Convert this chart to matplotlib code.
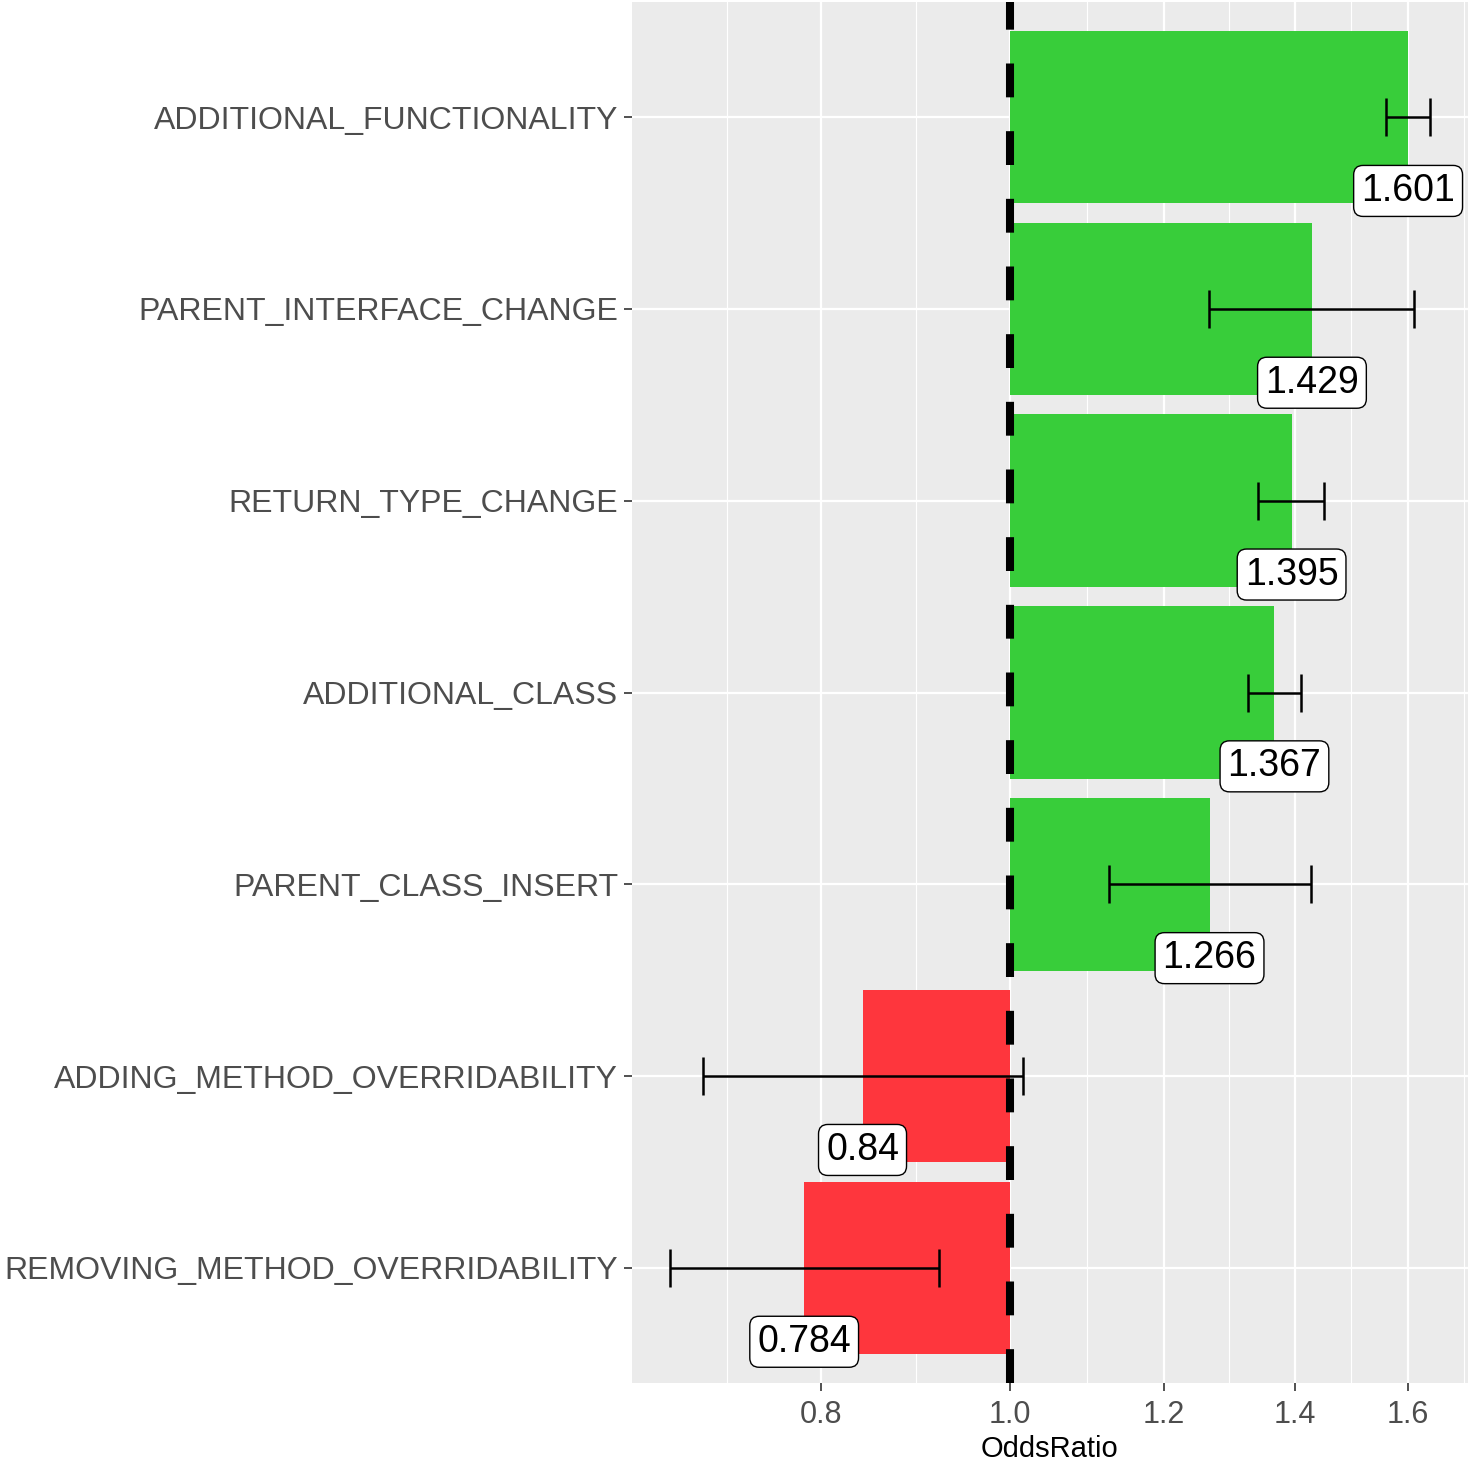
import numpy as np
import matplotlib
matplotlib.use("Agg")
import matplotlib.pyplot as plt
from matplotlib.ticker import FixedLocator, NullFormatter

plt.rcParams["font.family"] = ["Liberation Sans", "DejaVu Sans"]

# Data (bottom to top)
categories = [
    "REMOVING_METHOD_OVERRIDABILITY",
    "ADDING_METHOD_OVERRIDABILITY",
    "PARENT_CLASS_INSERT",
    "ADDITIONAL_CLASS",
    "RETURN_TYPE_CHANGE",
    "PARENT_INTERFACE_CHANGE",
    "ADDITIONAL_FUNCTIONALITY",
]
odds_ratio = [0.784, 0.84, 1.266, 1.367, 1.395, 1.429, 1.601]
ci_low = [0.669, 0.696, 1.124, 1.325, 1.340, 1.265, 1.560]
ci_high = [0.920, 1.015, 1.427, 1.410, 1.449, 1.612, 1.643]
x_ticks = [0.8, 1.0, 1.2, 1.4, 1.6]

green = "#38CD3A"
red = "#FE363D"

fig = plt.figure(figsize=(14.78, 14.64), dpi=100)
ax = fig.add_axes([632 / 1478, 1 - 1383 / 1464, (1468 - 632) / 1478, 1381 / 1464])
ax.set_facecolor("#EBEBEB")
ax.set_xscale("log")

y = np.arange(len(categories))
colors = [green if v >= 1 else red for v in odds_ratio]
widths = [v - 1.0 for v in odds_ratio]
ax.barh(y, widths, left=1.0, height=0.9, color=colors, zorder=2)

err = [np.array(odds_ratio) - np.array(ci_low), np.array(ci_high) - np.array(odds_ratio)]
ax.errorbar(odds_ratio, y, xerr=err, fmt="none", ecolor="black",
            elinewidth=1.8, capsize=14, capthick=1.8, zorder=4)

ax.axvline(1.0, color="black", lw=5.8, linestyle=(0, (4.2, 4.2)), zorder=5)

for yi, v in zip(y, odds_ratio):
    ax.text(v, yi - 0.385, f"{v:g}", ha="center", va="center", fontsize=27,
            zorder=6,
            bbox=dict(boxstyle="round,pad=0.2,rounding_size=0.25",
                      fc="white", ec="black", lw=1.0))

# limits (log space with ggplot-like expansion)
lo = np.log(min(ci_low))
hi = np.log(max(ci_high))
pad = 0.05 * (hi - lo)
ax.set_xlim(np.exp(lo - pad), np.exp(hi + pad))
ax.set_ylim(-0.6, len(categories) - 0.4)

# grid
lx = np.log(x_ticks)
step = lx[1] - lx[0]
minors = [np.exp(lx[0] - step / 2)] + [np.exp((a + b) / 2) for a, b in zip(lx[:-1], lx[1:])] + [np.exp(lx[-1] + (lx[-1] - lx[-2]) / 2)]
ax.xaxis.set_major_locator(FixedLocator(x_ticks))
ax.xaxis.set_minor_locator(FixedLocator(minors))
ax.xaxis.set_minor_formatter(NullFormatter())
ax.set_xticklabels([f"{t:.1f}" for t in x_ticks])
ax.set_yticks(y)
ax.set_yticklabels(categories)

ax.grid(which="major", color="white", lw=1.6, zorder=0)
ax.grid(which="minor", axis="x", color="white", lw=0.8, zorder=0)
ax.set_axisbelow(True)

for s in ax.spines.values():
    s.set_visible(False)
ax.tick_params(axis="both", which="major", length=6, width=1.2, color="#333333",
               labelcolor="#4D4D4D")
ax.tick_params(axis="y", labelsize=23, pad=4)
ax.tick_params(axis="x", labelsize=22, pad=6)
ax.tick_params(which="minor", length=0)
ax.set_xlabel("OddsRatio", fontsize=21, labelpad=4)

fig.savefig("out.png", dpi=100)
